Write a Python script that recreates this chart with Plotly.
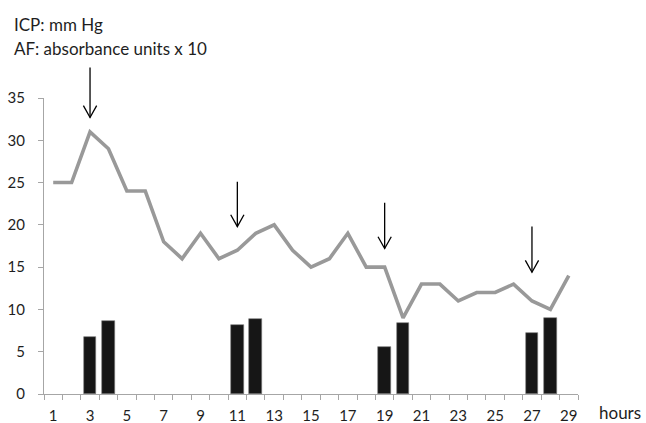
import plotly.graph_objects as go

hours = list(range(1, 30))
icp = [25, 25, 31, 29, 24, 24, 18, 16, 19, 16, 17, 19, 20, 17, 15, 16, 19, 15, 15, 9,
       13, 13, 11, 12, 12, 13, 11, 10, 14]
af_hours = [3, 4, 11, 12, 19, 20, 27, 28]
af_values = [6.7, 8.6, 8.15, 8.85, 5.6, 8.45, 7.2, 9.0]
arrow_hours = [3, 11, 19, 27]
arrow_top = [38.6, 25.1, 22.6, 19.8]
arrow_tip = [32.7, 19.8, 17.2, 14.4]
x_tick_labels = [str(h) for h in range(1, 30, 2)]
y_ticks = list(range(0, 36, 5))

FONT = "Lato, Calibri, Carlito, sans-serif"
TXT = "#1e1e1e"
Y_MAX = 35
X_RANGE = [0.5, 29.5]

W, H = 646, 423
ML, MR, MT, MB = 44, 68, 98, 29
pw = W - ML - MR
ph = H - MT - MB

fig = go.Figure()
fig.add_trace(go.Bar(x=af_hours, y=af_values, width=0.69,
                     marker=dict(color="#161616", line=dict(color="#7a7a7a", width=0.6)),
                     showlegend=False))
fig.add_trace(go.Scatter(x=hours, y=icp, mode="lines",
                         line=dict(color="#999999", width=3.6),
                         showlegend=False))

def xp(v):
    return (v - X_RANGE[0]) / (X_RANGE[1] - X_RANGE[0])

def yp(v):
    return v / Y_MAX

shapes = []
hw, hh = 0.36, 1.4
for xa, yt, yb in zip(arrow_hours, arrow_top, arrow_tip):
    shapes.append(dict(type="line", xref="paper", yref="paper",
                       x0=xp(xa), x1=xp(xa), y0=yp(yt), y1=yp(yb),
                       line=dict(color="black", width=1.3)))
    shapes.append(dict(type="path", xref="paper", yref="paper",
                       path=f"M {xp(xa-hw)},{yp(yb+hh)} L {xp(xa)},{yp(yb)} L {xp(xa+hw)},{yp(yb+hh)}",
                       line=dict(color="black", width=1.3)))

def px_ann(text, x, y):
    return dict(text=text, x=(x - ML) / pw, y=1 - (y - MT) / ph,
                xref="paper", yref="paper", showarrow=False,
                xanchor="left", yanchor="middle",
                font=dict(size=17, family=FONT, color=TXT))

fig.update_layout(
    width=W, height=H,
    margin=dict(l=ML, r=MR, t=MT, b=MB, autoexpand=False),
    paper_bgcolor="white", plot_bgcolor="white",
    font=dict(family=FONT, size=15, color=TXT),
    shapes=shapes,
    bargap=0,
    xaxis=dict(range=X_RANGE, tickmode="array",
               tickvals=list(range(1, 30, 2)), ticktext=x_tick_labels,
               ticks="", showgrid=False, zeroline=False, automargin=False,
               showline=True, linecolor="#a6a6a6", linewidth=1,
               tickfont=dict(size=15, family=FONT, color=TXT),
               ticklabelstandoff=8,
               minor=dict(ticks="outside", ticklen=5, tick0=0.5, dtick=1,
                          tickcolor="#a6a6a6", tickwidth=1, showgrid=False)),
    yaxis=dict(range=[0, Y_MAX], tickmode="array", tickvals=y_ticks,
               ticks="outside", ticklen=5, tickcolor="#a6a6a6",
               showgrid=False, zeroline=False, automargin=False,
               showline=True, linecolor="#a6a6a6", linewidth=1,
               tickfont=dict(size=15, family=FONT, color=TXT),
               ticklabelstandoff=10),
    annotations=[
        px_ann("ICP: mm Hg", 12, 24),
        px_ann("AF: absorbance units x 10", 12, 49),
        px_ann("hours", 597, 412),
    ],
)

fig.write_html("out.html", config={"displayModeBar": False},
               post_script="document.body.style.margin='0';document.body.style.overflow='hidden';")
